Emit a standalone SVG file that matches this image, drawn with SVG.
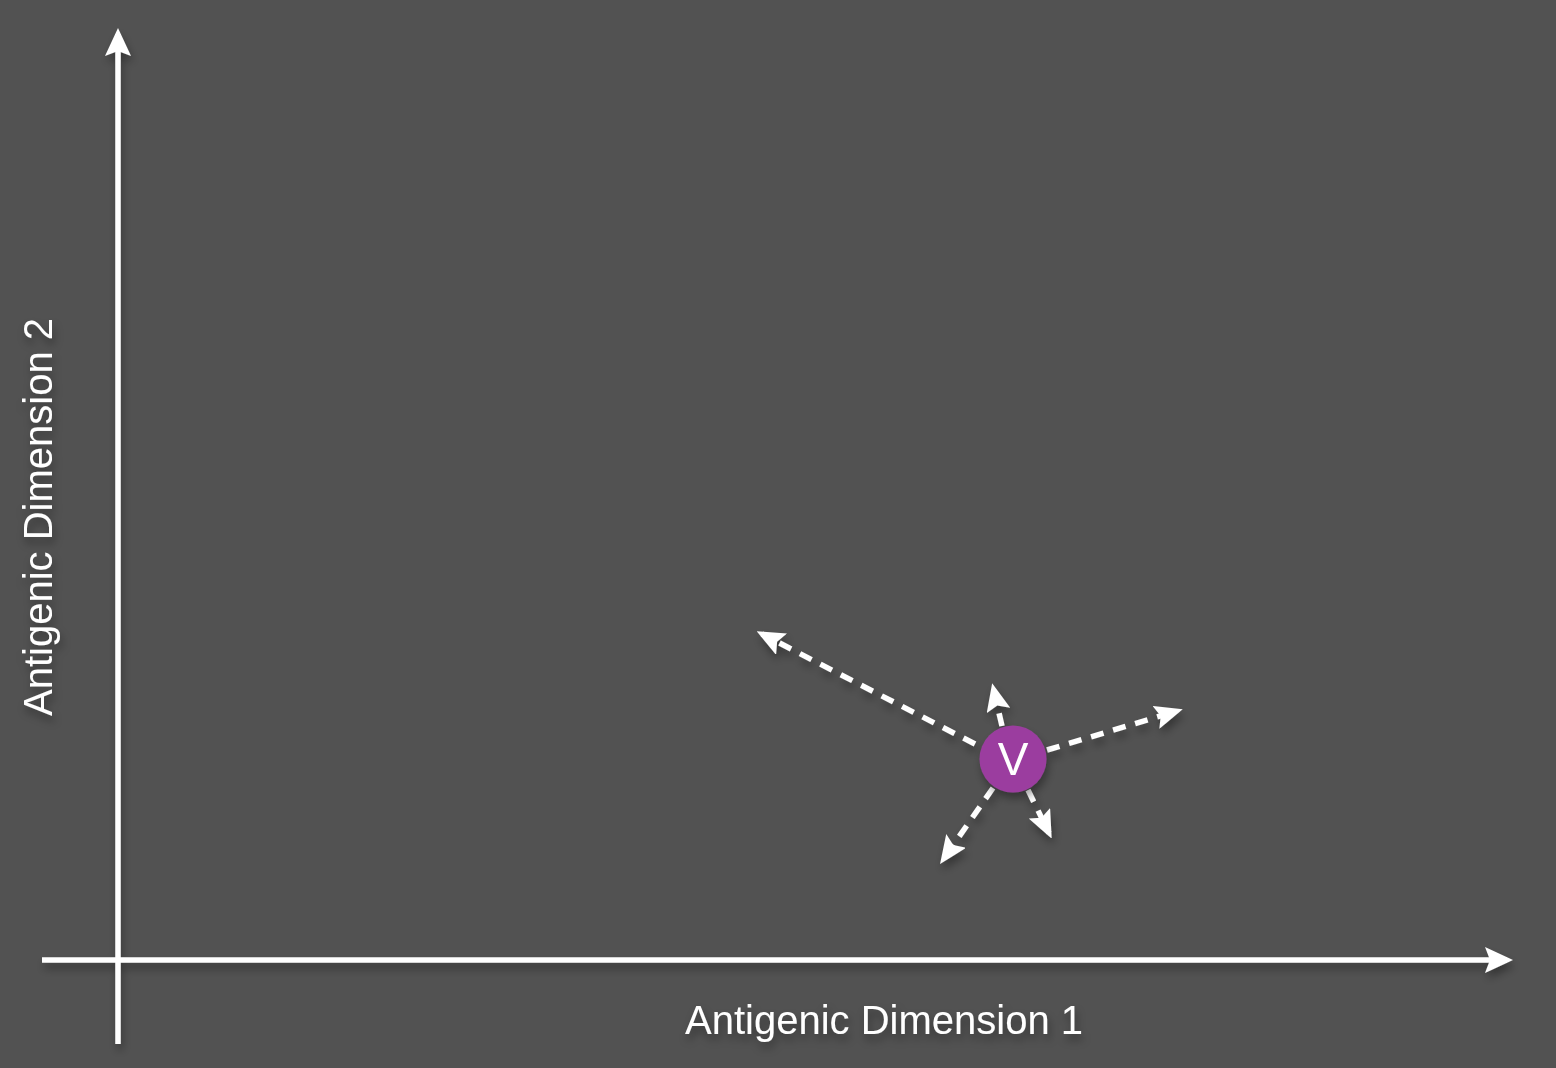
<svg xmlns="http://www.w3.org/2000/svg" width="1556" height="1068" viewBox="0 0 1556 1068">
<style>
.axis{stroke:#ffffff;stroke-width:5.5;fill:none}
.vec{stroke:#ffffff;stroke-width:5.5;fill:none;stroke-dasharray:13 10}
.lbl{font-family:"Liberation Sans",Arial,sans-serif;font-size:40px;fill:#ffffff}
</style>
<defs>
<filter id="sh" x="-20%" y="-20%" width="140%" height="140%">
<feDropShadow dx="2" dy="6" stdDeviation="4" flood-color="#000" flood-opacity="0.35"/>
</filter>
<marker id="ah" viewBox="0 0 28 26" refX="22" refY="13" markerWidth="28" markerHeight="26" markerUnits="userSpaceOnUse" orient="auto">
<path d="M0,0 L28,13 L0,26 L5,13 Z" fill="#ffffff"/>
</marker>
<marker id="ahs" viewBox="0 0 28 24" refX="22" refY="12" markerWidth="28" markerHeight="24" markerUnits="userSpaceOnUse" orient="auto">
<path d="M0,0 L28,12 L0,24 L5,12 Z" fill="#ffffff"/>
</marker>
</defs>
<rect width="1556" height="1068" fill="#525252"/>
<g id="axes" filter="url(#sh)">
<line class="axis" x1="118" y1="1044" x2="118" y2="34" marker-end="url(#ah)"/>
<line class="axis" x1="42" y1="960" x2="1507" y2="960" marker-end="url(#ah)"/>
</g>
<g id="connectors" filter="url(#sh)">
<line class="vec" x1="975" y1="744" x2="762" y2="634" marker-end="url(#ahs)"/>
<line class="vec" x1="1002" y1="726" x2="993.5" y2="689" marker-end="url(#ahs)"/>
<line class="vec" x1="1047" y1="750" x2="1177" y2="711" marker-end="url(#ahs)"/>
<line class="vec" x1="993" y1="788" x2="943.5" y2="859" marker-end="url(#ahs)"/>
<line class="vec" x1="1028" y1="790" x2="1049" y2="833" marker-end="url(#ahs)"/>
</g>
<g id="node-V" filter="url(#sh)">
<circle cx="1013" cy="759" r="33.5" fill="#9b3e9f"/>
<text class="lbl" x="1013" y="775" text-anchor="middle" style="font-size:46px">V</text>
</g>
<g id="labels" filter="url(#sh)">
<text class="lbl" x="685" y="1034">Antigenic Dimension 1</text>
<text class="lbl" transform="translate(52,716) rotate(-90)">Antigenic Dimension 2</text>
</g>
</svg>
